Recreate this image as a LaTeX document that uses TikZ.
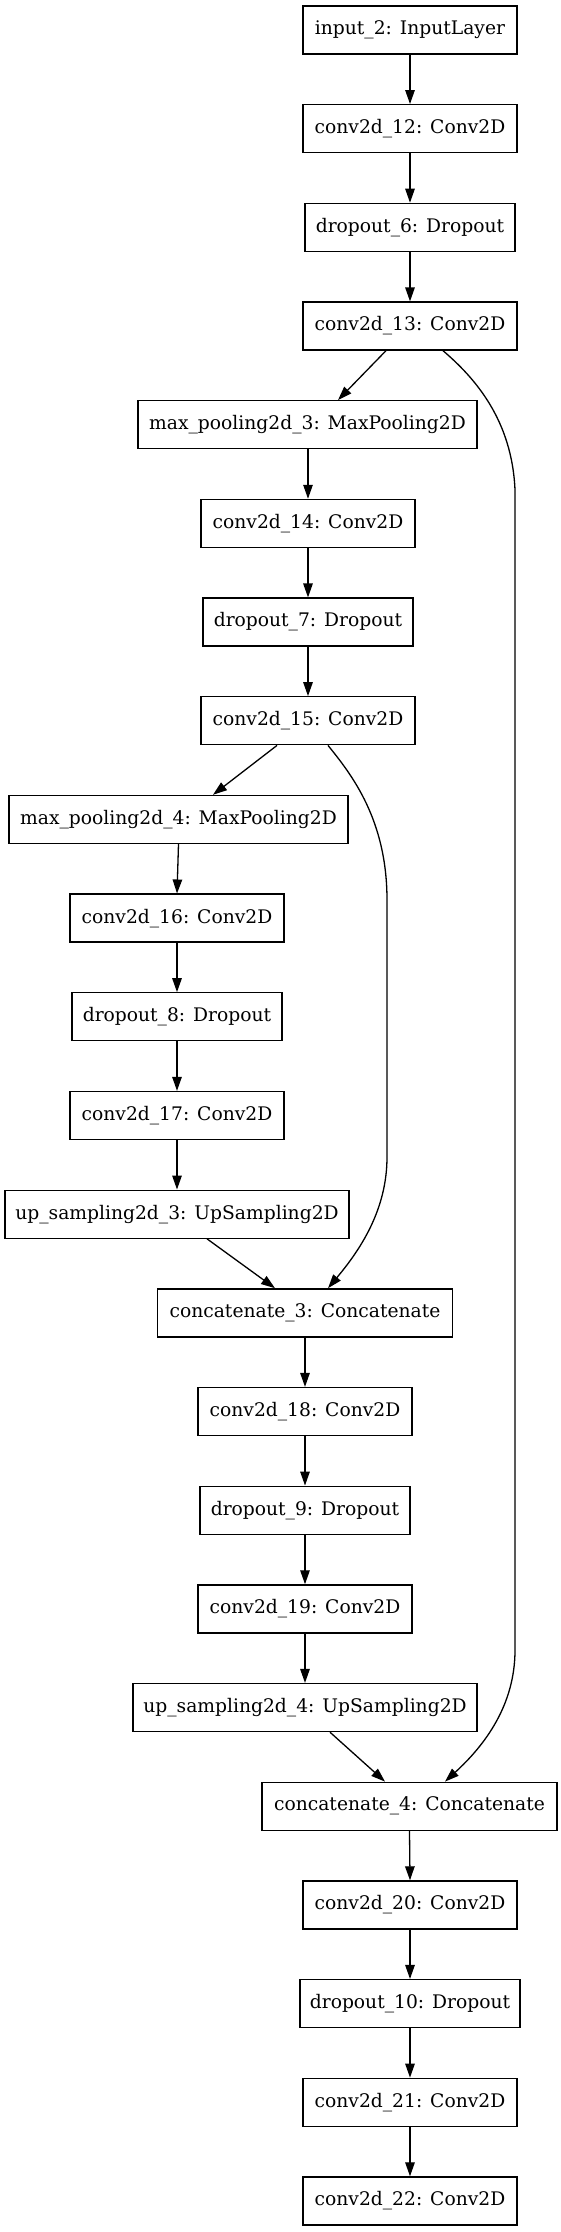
\documentclass[tikz,border=0pt]{standalone}
\usepackage{fontspec}
\setmainfont{DejaVu Serif}
\usetikzlibrary{arrows.meta}
\begin{document}
\begin{tikzpicture}[x=1pt,y=-1pt,
  layer/.style={draw=black, line width=1.3pt, rectangle, inner sep=0pt,
    minimum height=48pt, font=\fontsize{18.7pt}{22pt}\selectfont},
  wconv/.style={minimum width=214pt},
  wdrop/.style={minimum width=210pt},
  wpool/.style={minimum width=339pt},
  wup/.style={minimum width=344pt},
  wcat/.style={minimum width=295pt},
  edge/.style={line width=1.3pt, -{Triangle[length=14pt,width=9.5pt]}}]
\useasboundingbox (0,0) rectangle (561,2232);
% rank i centre y = 30 + 98.68 i
\node[layer, wconv] (in)   at (410,30)      {input\_2: InputLayer};
\node[layer, wconv] (c12)  at (410,128.68)  {conv2d\_12: Conv2D};
\node[layer, wdrop] (d6)   at (410,227.36)  {dropout\_6: Dropout};
\node[layer, wconv] (c13)  at (410,326.04)  {conv2d\_13: Conv2D};
\node[layer, wpool] (mp3)  at (307.5,424.72) {max\_pooling2d\_3: MaxPooling2D};
\node[layer, wconv] (c14)  at (308,523.4)   {conv2d\_14: Conv2D};
\node[layer, wdrop] (d7)   at (308,622.08)  {dropout\_7: Dropout};
\node[layer, wconv] (c15)  at (308,720.76)  {conv2d\_15: Conv2D};
\node[layer, wpool] (mp4)  at (178.5,819.44) {max\_pooling2d\_4: MaxPooling2D};
\node[layer, wconv] (c16)  at (177,918.12)  {conv2d\_16: Conv2D};
\node[layer, wdrop] (d8)   at (177,1016.8)  {dropout\_8: Dropout};
\node[layer, wconv] (c17)  at (177,1115.48) {conv2d\_17: Conv2D};
\node[layer, wup]   (up3)  at (177,1214.16) {up\_sampling2d\_3: UpSampling2D};
\node[layer, wcat]  (cat3) at (305,1312.84) {concatenate\_3: Concatenate};
\node[layer, wconv] (c18)  at (305,1411.52) {conv2d\_18: Conv2D};
\node[layer, wdrop] (d9)   at (305,1510.2)  {dropout\_9: Dropout};
\node[layer, wconv] (c19)  at (305,1608.88) {conv2d\_19: Conv2D};
\node[layer, wup]   (up4)  at (305,1707.56) {up\_sampling2d\_4: UpSampling2D};
\node[layer, wcat]  (cat4) at (409.5,1806.24) {concatenate\_4: Concatenate};
\node[layer, wconv] (c20)  at (410,1904.92) {conv2d\_20: Conv2D};
\node[layer, minimum width=220pt] (d10) at (410,2003.6) {dropout\_10: Dropout};
\node[layer, wconv] (c21)  at (410,2102.28) {conv2d\_21: Conv2D};
\node[layer, wconv] (c22)  at (410,2200.96) {conv2d\_22: Conv2D};
% straight edges
\draw[edge] (in) -- (c12);
\draw[edge] (c12) -- (d6);
\draw[edge] (d6) -- (c13);
\draw[edge] ([xshift=-24pt]c13.south) -- ([xshift=30.5pt]mp3.north);
\draw[edge] (mp3.south -| c14) -- (c14);
\draw[edge] (c14) -- (d7);
\draw[edge] (d7) -- (c15);
\draw[edge] ([xshift=-31pt]c15.south) -- ([xshift=34.5pt]mp4.north);
\draw[edge] (mp4.south) -- (c16.north);
\draw[edge] (c16) -- (d8);
\draw[edge] (d8) -- (c17);
\draw[edge] (c17) -- (up3);
\draw[edge] ([xshift=30pt]up3.south) -- ([xshift=-30pt]cat3.north);
\draw[edge] (cat3) -- (c18);
\draw[edge] (c18) -- (d9);
\draw[edge] (d9) -- (c19);
\draw[edge] (c19) -- (up4);
\draw[edge] ([xshift=25pt]up4.south) -- ([xshift=-24.5pt]cat4.north);
\draw[edge] (cat4.south) -- (c20.north);
\draw[edge] (c20) -- (d10);
\draw[edge] (d10) -- (c21);
\draw[edge] (c21) -- (c22);
% skip connections
\coordinate (l1) at (387,900);
\coordinate (l2) at (387,1157);
\draw[edge] ([xshift=20pt]c15.south) .. controls (352,775) and (387,820) .. (l1)
  -- (l2) .. controls (387,1210) and (360,1250) .. ([xshift=23pt]cat3.north);
\coordinate (r1) at (515,490);
\coordinate (r2) at (515,1650);
\draw[edge] ([xshift=33pt]c13.south) .. controls (475,378) and (512,420) .. (r1)
  -- (r2) .. controls (515,1705) and (485,1745) .. ([xshift=35.5pt]cat4.north);
\end{tikzpicture}
\end{document}
